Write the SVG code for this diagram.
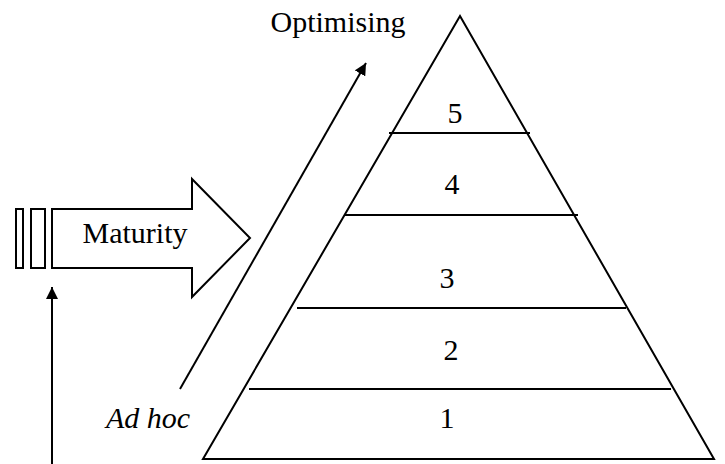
<svg xmlns="http://www.w3.org/2000/svg" width="725" height="464" viewBox="0 0 725 464">
<defs>
<marker id="ah" viewBox="0 0 10 10" refX="10" refY="5" markerWidth="6" markerHeight="6" orient="auto" markerUnits="strokeWidth">
<path d="M0,0 L10,5 L0,10 z" fill="#000"/>
</marker>
</defs>
<rect width="725" height="464" fill="#fff"/>
<g id="pyramid">
<g stroke="#000" stroke-width="2" fill="#fff">
<polygon points="460,16 714,459 203,459"/>
<line x1="389" y1="133" x2="530" y2="133"/>
<line x1="345" y1="215" x2="578" y2="215"/>
<line x1="297" y1="308" x2="626" y2="308"/>
<line x1="249" y1="389" x2="671" y2="389"/>
</g>
<g font-family="Liberation Serif, serif" font-size="30" text-anchor="middle" fill="#000">
<text x="455" y="123">5</text>
<text x="452" y="194">4</text>
<text x="447" y="288">3</text>
<text x="451" y="360">2</text>
<text x="447" y="428">1</text>
</g>
</g>
<g id="maturity">
<g stroke="#000" stroke-width="2" fill="#fff">
<rect x="16" y="209" width="7" height="59"/>
<rect x="31" y="209" width="14" height="59"/>
<polygon points="52,209 192,209 192,179 250,238 192,297 192,268 52,268"/>
</g>
<text x="135" y="243" font-family="Liberation Serif, serif" font-size="30" text-anchor="middle" fill="#000">Maturity</text>
</g>
<g id="optimising">
<text x="338" y="32" font-family="Liberation Serif, serif" font-size="30" text-anchor="middle" fill="#000">Optimising</text>
</g>
<g id="adhoc">
<text x="148" y="428" font-family="Liberation Serif, serif" font-size="30" font-style="italic" text-anchor="middle" fill="#000">Ad hoc</text>
</g>
<g id="connectors" stroke="#000" stroke-width="2" fill="none">
<line x1="180" y1="389" x2="366" y2="63" marker-end="url(#ah)"/>
<line x1="52" y1="464" x2="52" y2="287" marker-end="url(#ah)"/>
</g>
</svg>
